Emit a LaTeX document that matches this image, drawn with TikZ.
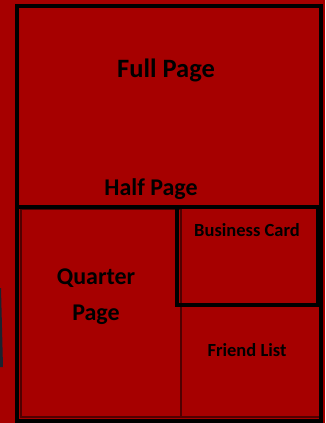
\documentclass[tikz,border=0pt]{standalone}
\usepackage{fontspec}
\setmainfont{Carlito}
\definecolor{adred}{RGB}{166,0,0}
\definecolor{adline}{RGB}{80,0,0}
\definecolor{sliver}{RGB}{28,34,46}
\begin{document}
\begin{tikzpicture}[x=1pt, y=-1pt,
    heavy/.style={draw=black, line width=4.8pt},
    faint/.style={draw=adline, line width=1.2pt},
    bigtext/.style={font=\fontsize{26.5}{36}\selectfont\bfseries},
    midtext/.style={font=\fontsize{24}{36}\selectfont\bfseries, align=center},
    smalltext/.style={font=\fontsize{18.5}{22}\selectfont\bfseries}]
  \useasboundingbox (0,0) rectangle (325,423);
  \fill[adred] (0,0) rectangle (325,423);
  \fill[sliver] (0,288) -- (1,288) -- (3,367) -- (0,367) -- cycle;
  % thin inner lines
  \draw[faint] (21,209) rectangle (181,417);
  \draw[faint] (181,417) -- (319,417);
  % heavy frame
  \draw[heavy] (17,6) rectangle (321,421);
  \draw[heavy] (17,207) -- (321,207);
  \draw[heavy] (177,207) rectangle (318,305);
  % labels
  \node[bigtext] (full) at (166,70) {Full Page};
  \node[midtext] (half) at (151,189) {Half Page};
  \node[midtext] (quarter) at (96,297) {Quarter\\Page};
  \node[smalltext] (card) at (247,230) {Business Card};
  \node[smalltext] (friend) at (247,350) {Friend List};
\end{tikzpicture}
\end{document}
